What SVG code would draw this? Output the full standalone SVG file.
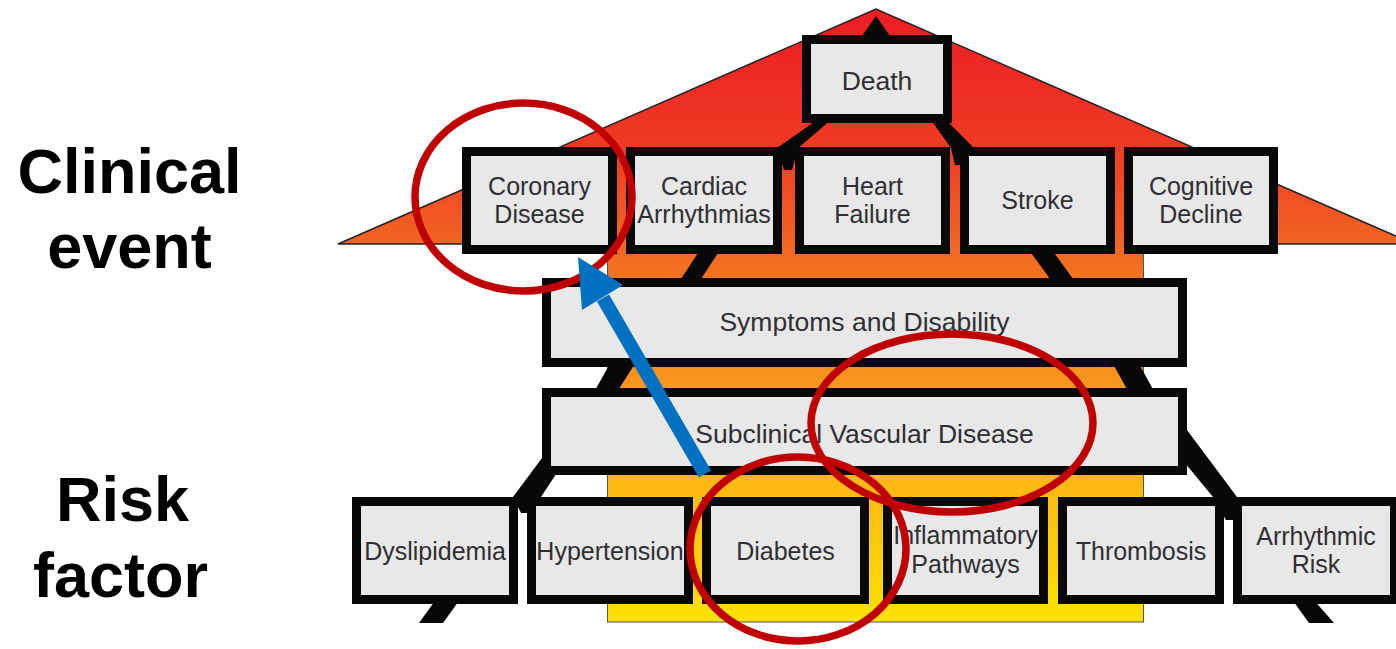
<svg xmlns="http://www.w3.org/2000/svg" width="1396" height="649" viewBox="0 0 1396 649">
  <defs>
    <linearGradient id="house" gradientUnits="userSpaceOnUse" x1="0" y1="9" x2="0" y2="622">
      <stop offset="0" stop-color="#ED1C24"/>
      <stop offset="0.23" stop-color="#EE3B24"/>
      <stop offset="0.383" stop-color="#F26522"/>
      <stop offset="0.426" stop-color="#F37021"/>
      <stop offset="0.6" stop-color="#F7941D"/>
      <stop offset="0.777" stop-color="#FDB913"/>
      <stop offset="1" stop-color="#FDE200"/>
    </linearGradient>
    <style>
      .box { fill: #E8E8E8; stroke: #080808; stroke-width: 9; }
      .lbl { font-family: "Liberation Sans", Arial, Helvetica, sans-serif; fill: #2F2F33; text-anchor: middle; }
      .f25 { font-size: 25px; }
      .f26 { font-size: 26.5px; }
      .side { font-family: "Liberation Sans", Arial, Helvetica, sans-serif; font-weight: bold; font-size: 63px; fill: #000000; text-anchor: middle; }
      .leg { fill: #080808; }
      .ring { fill: none; stroke: #C00000; stroke-width: 7.5; }
    </style>
  </defs>

  <rect x="0" y="0" width="1396" height="649" fill="#FFFFFF"/>

  <g id="house-shape">
    <rect x="607.5" y="240" width="536" height="382" fill="url(#house)" stroke="#555555" stroke-width="1"/>
    <polygon points="338,244 876,9 1414,244" fill="url(#house)" stroke="#222222" stroke-width="1.5" stroke-linejoin="miter"/>
    <rect x="608" y="238" width="535" height="20" fill="url(#house)"/>
  </g>

  <g id="side-labels">
    <text class="side" x="129.5" y="193">Clinical</text>
    <text class="side" x="129.5" y="268">event</text>
    <text class="side" x="122.5" y="521">Risk</text>
    <text class="side" x="120.5" y="597">factor</text>
  </g>

  <g id="connectors">
    <polygon class="leg" points="862,36 876,16 890,36"/>
    <polygon class="leg" points="817,120 831,120 798,148 792,170 784,170 777,148"/>
    <polygon class="leg" points="931,120 946,120 974,148 961,165 955,165 951,148"/>
    <polygon class="leg" points="700,250 720,250 697,285 677,285"/>
    <polygon class="leg" points="1029,250 1052,250 1076,283 1053,283"/>
    <polygon class="leg" points="611,362 636,362 617,392 594,392"/>
    <polygon class="leg" points="1112,362 1138,362 1155,393 1129,393"/>
    <polygon class="leg" points="542,458 560,468 541,497 529,513 521,513 513,497"/>
    <polygon class="leg" points="1180,425 1187,430 1237,497 1233,520 1226,520 1213,497 1180,457"/>
    <polygon class="leg" points="437,598 461,598 443,623 419,623"/>
    <polygon class="leg" points="1291,598 1312,598 1334,623 1309,623"/>
  </g>

  <g id="node-death">
    <rect class="box" x="806.5" y="39.5" width="141" height="79"/>
    <text class="lbl f26" x="877" y="90">Death</text>
  </g>
  <g id="node-coronary">
    <rect class="box" x="466.5" y="151.5" width="146" height="98"/>
    <text class="lbl f25" x="539.5" y="195">Coronary</text>
    <text class="lbl f25" x="539.5" y="223">Disease</text>
  </g>
  <g id="node-cardiac">
    <rect class="box" x="630.5" y="151.5" width="147" height="98"/>
    <text class="lbl f25" x="704" y="195">Cardiac</text>
    <text class="lbl f25" x="704" y="223">Arrhythmias</text>
  </g>
  <g id="node-heart-failure">
    <rect class="box" x="799.5" y="151.5" width="146" height="98"/>
    <text class="lbl f25" x="872.5" y="195">Heart</text>
    <text class="lbl f25" x="872.5" y="223">Failure</text>
  </g>
  <g id="node-stroke">
    <rect class="box" x="964.5" y="151.5" width="146" height="98"/>
    <text class="lbl f25" x="1037.5" y="209">Stroke</text>
  </g>
  <g id="node-cognitive">
    <rect class="box" x="1128.5" y="151.5" width="145" height="98"/>
    <text class="lbl f25" x="1201" y="195">Cognitive</text>
    <text class="lbl f25" x="1201" y="223">Decline</text>
  </g>
  <g id="node-symptoms">
    <rect class="box" x="546.5" y="282.5" width="636" height="80"/>
    <text class="lbl f26" x="864.5" y="331">Symptoms and Disability</text>
  </g>
  <g id="node-subclinical">
    <rect class="box" x="546.5" y="392.5" width="636" height="78"/>
    <text class="lbl f26" x="864.5" y="443">Subclinical Vascular Disease</text>
  </g>
  <g id="node-dyslipidemia">
    <rect class="box" x="356.5" y="501.5" width="157" height="98"/>
    <text class="lbl f25" x="435" y="560">Dyslipidemia</text>
  </g>
  <g id="node-hypertension">
    <rect class="box" x="531.5" y="501.5" width="157" height="98"/>
    <text class="lbl f25" x="610" y="560">Hypertension</text>
  </g>
  <g id="node-diabetes">
    <rect class="box" x="706.5" y="501.5" width="158" height="98"/>
    <text class="lbl f25" x="785.5" y="560">Diabetes</text>
  </g>
  <g id="node-inflammatory">
    <rect class="box" x="887.5" y="501.5" width="156" height="98"/>
    <text class="lbl f25" x="965.5" y="544">Inflammatory</text>
    <text class="lbl f25" x="965.5" y="573">Pathways</text>
  </g>
  <g id="node-thrombosis">
    <rect class="box" x="1062.5" y="501.5" width="157" height="98"/>
    <text class="lbl f25" x="1141" y="560">Thrombosis</text>
  </g>
  <g id="node-arrhythmic">
    <rect class="box" x="1237.5" y="501.5" width="157" height="98"/>
    <text class="lbl f25" x="1316" y="545">Arrhythmic</text>
    <text class="lbl f25" x="1316" y="573">Risk</text>
  </g>

  <g id="highlights">
    <ellipse class="ring" cx="523.5" cy="197" rx="108.5" ry="94"/>
    <ellipse class="ring" cx="952" cy="423" rx="141" ry="89"/>
    <ellipse class="ring" cx="798" cy="549" rx="108" ry="92"/>
  </g>

  <g id="arrow">
    <line x1="603" y1="298" x2="705" y2="474" stroke="#0070C0" stroke-width="14"/>
    <polygon points="578,257 582,310 623,285" fill="#0070C0"/>
  </g>
</svg>
